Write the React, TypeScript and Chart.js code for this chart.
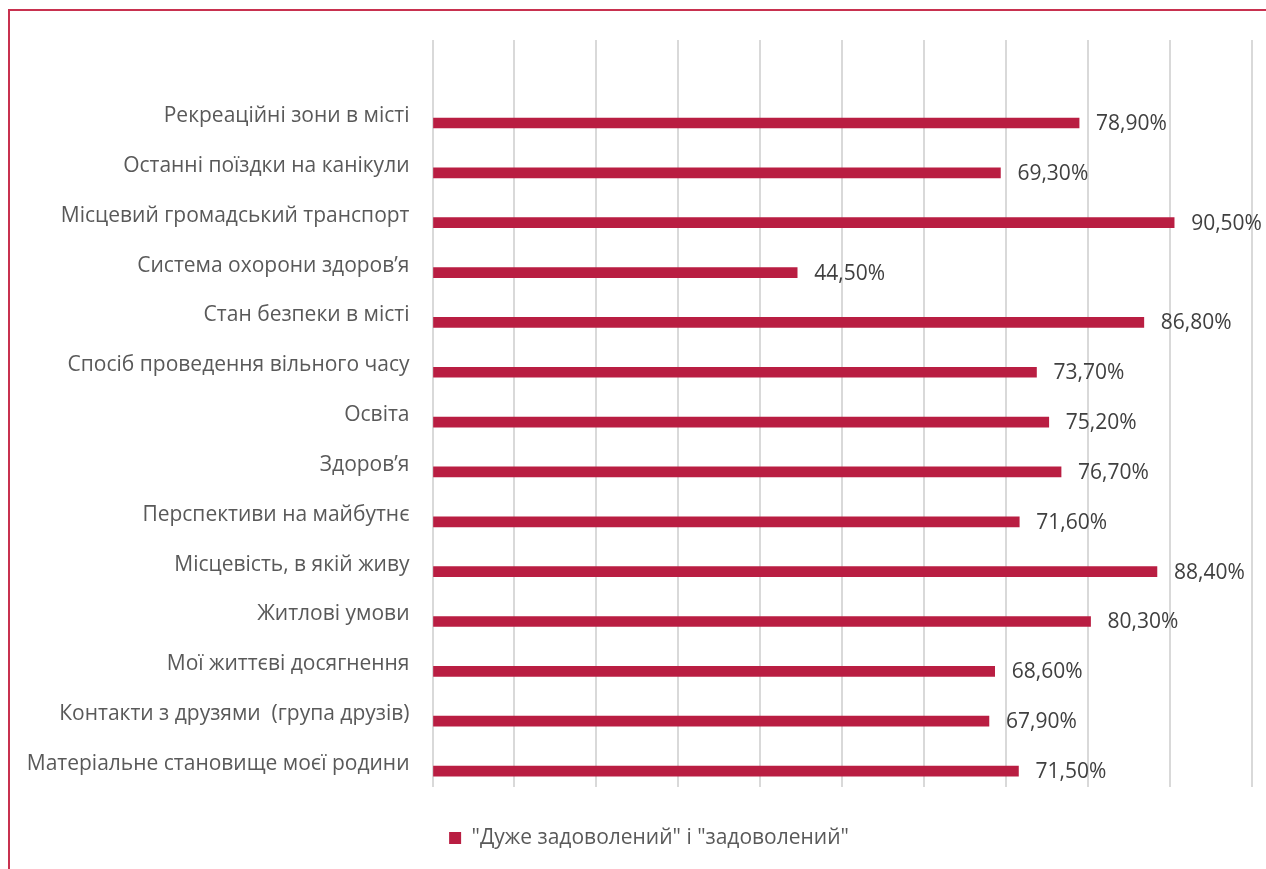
import React, { useEffect, useRef } from "react";
import { Chart, registerables } from "chart.js";

Chart.register(...registerables);

const CATEGORIES: string[] = [
  "Рекреаційні зони в місті",
  "Останні поїздки на канікули",
  "Місцевий громадський транспорт",
  "Система охорони здоров’я",
  "Стан безпеки в місті",
  "Спосіб проведення вільного часу",
  "Освіта",
  "Здоров’я",
  "Перспективи на майбутнє",
  "Місцевість, в якій живу",
  "Житлові умови",
  "Мої життєві досягнення",
  "Контакти з друзями  (група друзів)",
  "Матеріальне становище моєї родини",
];

const VALUES: number[] = [78.9, 69.3, 90.5, 44.5, 86.8, 73.7, 75.2, 76.7, 71.6, 88.4, 80.3, 68.6, 67.9, 71.5];

const SERIES_LABEL = '"Дуже задоволений" і "задоволений"';
const X_TICKS: number[] = [0, 10, 20, 30, 40, 50, 60, 70, 80, 90, 100];

const BAR_COLOR = "#B91E42";
const FRAME_COLOR = "#C8314F";
const FONT = "'Open Sans', 'Noto Sans', sans-serif";

const valueLabels = {
  id: "valueLabels",
  afterDatasetsDraw(chart: any) {
    const ctx = chart.ctx;
    const meta = chart.getDatasetMeta(0);
    ctx.save();
    ctx.font = `21px ${FONT}`;
    ctx.fillStyle = "#404040";
    ctx.textAlign = "left";
    ctx.textBaseline = "middle";
    meta.data.forEach((el: any, i: number) => {
      const txt = VALUES[i].toFixed(2).replace(".", ",") + "%";
      ctx.fillText(txt, el.x + 17, el.y + 1);
    });
    ctx.restore();
  },
};

const legendShift = {
  id: "legendShift",
  afterLayout(chart: any) {
    const lg = chart.legend;
    if (lg) {
      lg.left += 18;
      lg.right += 18;
    }
  },
};

export default function App() {
  const ref = useRef<HTMLCanvasElement>(null);

  useEffect(() => {
    if (!ref.current) return;
    Chart.defaults.font.family = FONT;
    const chart = new Chart(ref.current, {
      type: "bar",
      data: {
        datasets: [
          {
            label: SERIES_LABEL,
            data: VALUES.map((v, i) => ({ x: v, y: i })),
            backgroundColor: BAR_COLOR,
            borderWidth: 0,
            barThickness: 10,
          },
        ],
      },
      options: {
        indexAxis: "y",
        responsive: false,
        animation: false,
        layout: { padding: { top: 40, left: 10, right: 14, bottom: 10.5 } },
        scales: {
          x: {
            type: "linear",
            min: 0,
            max: 100,
            afterBuildTicks: (scale: any) => {
              scale.ticks = X_TICKS.map((v) => ({ value: v }));
            },
            afterFit: (scale: any) => {
              scale.height = 30.5;
            },
            ticks: { display: false },
            grid: { color: "#D9D9D9", lineWidth: 2, drawTicks: false },
            border: { display: false },
          },
          y: {
            type: "linear",
            reverse: true,
            offset: false,
            min: -1.665,
            max: 13.32,
            afterBuildTicks: (scale: any) => {
              scale.ticks = CATEGORIES.map((_, i) => ({ value: i }));
            },
            afterFit: (scale: any) => {
              scale.width = 422.5;
            },
            ticks: {
              autoSkip: false,
              padding: 23,
              labelOffset: -7,
              color: "#595959",
              font: { size: 21, family: FONT },
              callback: (v: any) => CATEGORIES[v as number] ?? "",
            },
            grid: { display: false, drawTicks: false },
            border: { display: false },
          },
        },
        plugins: {
          legend: {
            position: "bottom",
            labels: {
              boxWidth: 12,
              boxHeight: 12,
              padding: 10,
              color: "#595959",
              font: { size: 21, family: FONT },
            },
          },
          tooltip: { enabled: false },
        },
      },
      plugins: [valueLabels, legendShift],
    });
    return () => chart.destroy();
  }, []);

  return (
    <div
      style={{
        position: "fixed",
        left: 0,
        top: 0,
        width: 1266,
        height: 869,
        overflow: "hidden",
        background: "#fff",
      }}
    >
      <div
        style={{
          position: "absolute",
          left: 8,
          top: 9,
          width: 2000,
          height: 2000,
          borderLeft: `2px solid ${FRAME_COLOR}`,
          borderTop: `2px solid ${FRAME_COLOR}`,
        }}
      />
      <canvas
        ref={ref}
        width={1266}
        height={869}
        style={{ position: "absolute", left: 0, top: 0 }}
      />
    </div>
  );
}
